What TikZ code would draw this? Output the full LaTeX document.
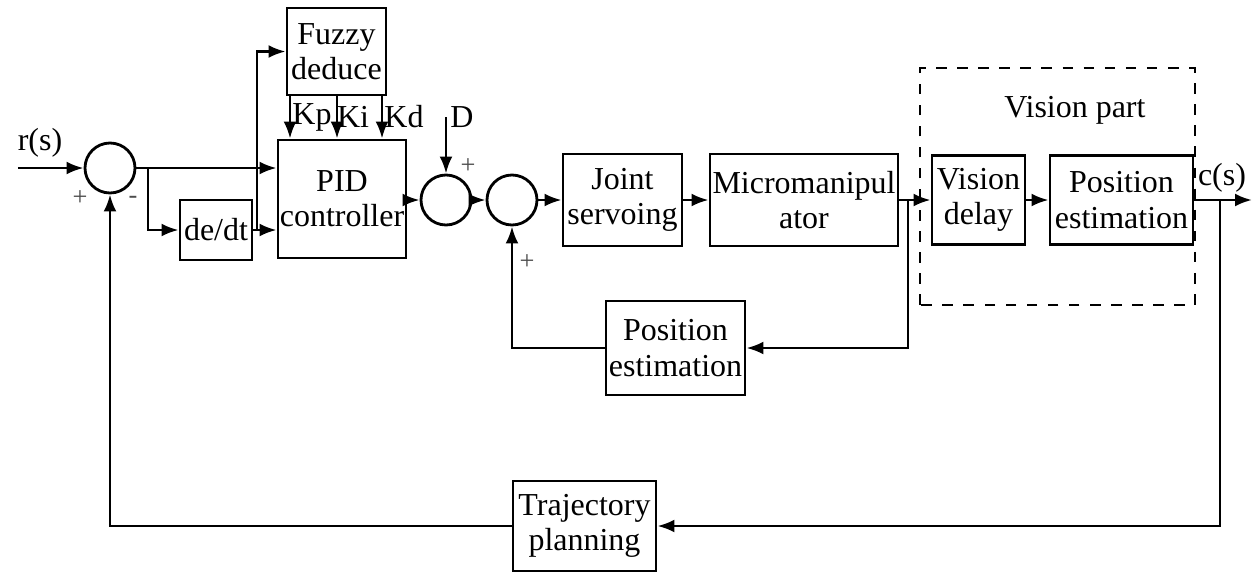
\documentclass[tikz,border=0pt]{standalone}
\usepackage{fontspec}
\setmainfont{Liberation Serif}
\usetikzlibrary{arrows.meta}
\begin{document}
\begin{tikzpicture}[
    blk/.style={draw, line width=0.8pt, align=center, inner sep=0pt, font=\fontsize{9.1}{10}\selectfont},
    sum/.style={draw, circle, line width=0.8pt, minimum size=0.5cm, inner sep=0pt},
    sig/.style={line width=0.8pt, -{Latex[length=1.7mm,width=1.3mm]}},
    lbl/.style={font=\fontsize{9.1}{10}\selectfont, inner sep=0pt},
    pm/.style={font=\fontsize{7.5}{8}\selectfont, inner sep=0pt, text=black!70}
]
    \useasboundingbox (0,0) rectangle (12.52,5.79);
    \foreach \x/\y/\w/\h/\txt/\name in {
        2.16/3.49/0.72/0.60/{de/dt}/deriv,
        3.365/5.275/0.99/0.87/{Fuzzy\\deduce}/fuzzy,
        3.42/3.80/1.28/1.18/{PID\\controller}/pid,
        6.225/3.79/1.19/0.92/{Joint\\servoing}/joint,
        8.04/3.79/1.88/0.92/{Micromanipul\\ator}/micro,
        9.785/3.79/0.93/0.89/{Vision\\delay}/vdelay,
        11.215/3.79/1.43/0.89/{Position\\estimation}/posest,
        6.755/2.31/1.39/0.94/{Position\\estimation}/posest2,
        5.845/0.53/1.43/0.90/{Trajectory\\planning}/traj} {
        \node[blk, minimum width=\w cm, minimum height=\h cm] (\name) at (\x, \y) {\txt};
    }
    \foreach \x/\y/\name in {1.10/4.11/s1, 4.46/3.79/s2, 5.12/3.79/s3} {
        \node[sum] (\name) at (\x, \y) {};
    }
    \draw [dashed, line width=0.8pt] (9.20, 2.74) rectangle (11.95, 5.11);

    \coordinate (rin) at (0.18, 4.11);
    \coordinate (dsrc) at (4.46, 4.62);
    \coordinate (cout) at (12.52, 3.79);
    \coordinate (b1) at (1.48, 4.11);
    \coordinate (b2) at (2.57, 3.49);
    \coordinate (b3) at (9.08, 3.79);
    \coordinate (b4) at (12.20, 3.79);

    \draw [sig] (rin) -- (s1);
    \draw [sig] (s1.east) -- (s1.east -| pid.west);
    \draw [sig] (b1) |- (deriv);
    \draw [sig] (deriv) -- (deriv -| pid.west);
    \draw [sig] (b2) |- (fuzzy);
    \foreach \k in {2.90, 3.37, 3.82} {
        \draw [sig] (\k,0 |- fuzzy.south) -- (\k,0 |- pid.north);
    }
    \draw [sig] (pid.east |- s2) -- (s2);
    \draw [sig] (dsrc) -- (s2.north);
    \draw [sig] (s2) -- (s3);
    \draw [sig] (s3) -- (joint);
    \draw [sig] (joint) -- (micro);
    \draw [sig] (micro) -- (vdelay);
    \draw [sig] (vdelay) -- (posest);
    \draw [sig] (posest) -- (cout);
    \draw [sig] (b3) |- (posest2);
    \draw [sig] (posest2.west) -| (s3.south);
    \draw [sig] (b4) |- (traj);
    \draw [sig] (traj.west) -| (s1.south);

    \node[lbl] (rlbl) at (0.40, 4.36) {r(s)};
    \node[lbl] (clbl) at (12.22, 4.01) {c(s)};
    \node[lbl] (dlbl) at (4.62, 4.62) {D};
    \node[lbl] (vlbl) at (10.75, 4.69) {Vision part};
    \node[lbl] (kp) at (3.12, 4.62) {Kp};
    \node[lbl] (ki) at (3.53, 4.62) {Ki};
    \node[lbl] (kd) at (4.04, 4.62) {Kd};
    \node[pm] (p1) at (0.80, 3.81) {+};
    \node[pm] (m1) at (1.33, 3.79) {-};
    \node[pm] (p2) at (4.68, 4.13) {+};
    \node[pm] (p3) at (5.27, 3.17) {+};
\end{tikzpicture}
\end{document}
